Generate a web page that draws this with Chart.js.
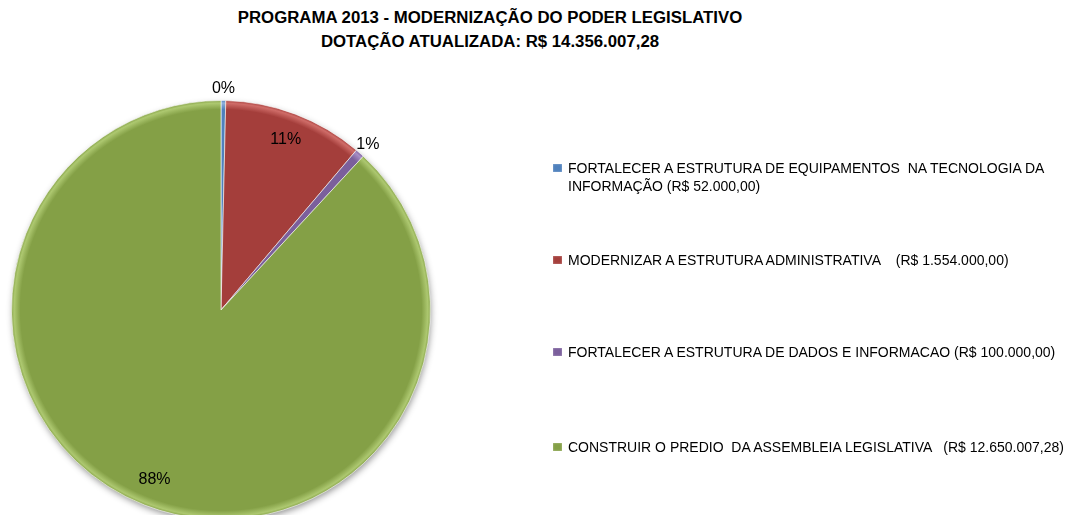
<!DOCTYPE html>
<html>
<head>
<meta charset="utf-8">
<script src="https://cdn.jsdelivr.net/npm/chart.js@4"></script>
<style>
  html, body { margin: 0; padding: 0; background: #fff; overflow: hidden; }
  #wrap { position: relative; width: 1072px; height: 515px; overflow: hidden; font-family: "Liberation Sans", Arial, sans-serif; color: #000; }
  #title { position: absolute; left: 0; width: 980px; top: 6px; text-align: center; font-weight: bold; font-size: 16.8px; line-height: 24px; }
  #pie { position: absolute; left: 0; top: 0; }
  #legend { position: absolute; left: 553px; top: 0; font-size: 14px; }
  .item { position: absolute; left: 0; display: flex; align-items: flex-start; line-height: 18px; white-space: pre; }
  .box { width: 9px; height: 8px; margin: 5px 6px 0 0; flex: none; box-shadow: inset 0 0 2px rgba(255,255,255,0.5); }
</style>
</head>
<body>
<div id="wrap">
  <div id="title">PROGRAMA 2013 - MODERNIZAÇÃO DO PODER LEGISLATIVO<br>DOTAÇÃO ATUALIZADA: R$ 14.356.007,28</div>
  <canvas id="pie" width="1072" height="540"></canvas>
  <div id="legend"></div>
</div>
<script>
const categories = [
  "FORTALECER A ESTRUTURA DE EQUIPAMENTOS  NA TECNOLOGIA DA\nINFORMAÇÃO",
  "MODERNIZAR A ESTRUTURA ADMINISTRATIVA   ",
  "FORTALECER A ESTRUTURA DE DADOS E INFORMACAO",
  "CONSTRUIR O PREDIO  DA ASSEMBLEIA LEGISLATIVA  "
];
const values = [52000.00, 1554000.00, 100000.00, 12650007.28];
const colors = ["#4f81bd", "#a43e3b", "#7b5f9c", "#84a046"];
const rimColors = ["#8fb0dc", "#cf6c68", "#a88fc6", "#adc870"];

// 12650007.28 -> "12.650.007,28"
function brl(v) {
  const [int, dec] = v.toFixed(2).split(".");
  return int.replace(/\B(?=(\d{3})+(?!\d))/g, ".") + "," + dec;
}

const legendTops = [159, 251, 343, 438];
const legend = document.getElementById("legend");
categories.forEach((name, i) => {
  const item = document.createElement("div");
  item.className = "item";
  item.style.top = legendTops[i] + "px";
  const box = document.createElement("span");
  box.className = "box";
  box.style.background = colors[i];
  const txt = document.createElement("span");
  txt.textContent = name + " (R$ " + brl(values[i]) + ")";
  item.appendChild(box);
  item.appendChild(txt);
  legend.appendChild(item);
});

// slice fill with a lighter band at the rim
function sliceFill(ctx) {
  const i = ctx.dataIndex;
  const area = ctx.chart.chartArea;
  if (!area) return colors[i];
  const cx = (area.left + area.right) / 2;
  const cy = (area.top + area.bottom) / 2;
  const r = Math.min(area.width, area.height) / 2;
  const g = ctx.chart.ctx.createRadialGradient(cx, cy, 0, cx, cy, r);
  g.addColorStop(0, colors[i]);
  g.addColorStop(0.955, colors[i]);
  g.addColorStop(0.985, rimColors[i]);
  g.addColorStop(1, colors[i]);
  return g;
}

const pieShadow = {
  id: "pieShadow",
  beforeDatasetsDraw(chart) {
    const arc = chart.getDatasetMeta(0).data[0];
    if (!arc) return;
    const { ctx } = chart;
    ctx.save();
    ctx.shadowColor = "rgba(0,0,0,0.45)";
    ctx.shadowBlur = 7;
    ctx.shadowOffsetX = 1;
    ctx.shadowOffsetY = 3;
    ctx.fillStyle = colors[3];
    ctx.beginPath();
    ctx.arc(arc.x, arc.y, arc.outerRadius - 1, 0, Math.PI * 2);
    ctx.fill();
    ctx.restore();
  }
};

const pctLabels = {
  id: "pctLabels",
  afterDatasetsDraw(chart) {
    const { ctx } = chart;
    const total = values.reduce((a, b) => a + b, 0);
    ctx.save();
    ctx.font = '16px "Liberation Sans", Arial, sans-serif';
    ctx.fillStyle = "#000";
    ctx.textAlign = "center";
    ctx.textBaseline = "middle";
    chart.getDatasetMeta(0).data.forEach((arc, i) => {
      const p = arc.getProps(["x", "y", "startAngle", "endAngle", "outerRadius"], true);
      const share = values[i] / total;
      const mid = (p.startAngle + p.endAngle) / 2;
      const r = share < 0.05 ? p.outerRadius + 12 : p.outerRadius * 0.87;
      ctx.fillText(Math.round(share * 100) + "%", p.x + Math.cos(mid) * r, p.y + Math.sin(mid) * r);
    });
    ctx.restore();
  }
};

new Chart(document.getElementById("pie"), {
  type: "pie",
  data: {
    labels: categories,
    datasets: [{
      data: values,
      backgroundColor: sliceFill,
      borderColor: "rgba(255,255,255,0.6)",
      borderWidth: 1
    }]
  },
  options: {
    responsive: false,
    animation: false,
    layout: { padding: { left: 11, right: 641, top: 100, bottom: 20 } },
    plugins: {
      legend: { display: false },
      tooltip: { enabled: false }
    }
  },
  plugins: [pieShadow, pctLabels]
});
</script>
</body>
</html>
